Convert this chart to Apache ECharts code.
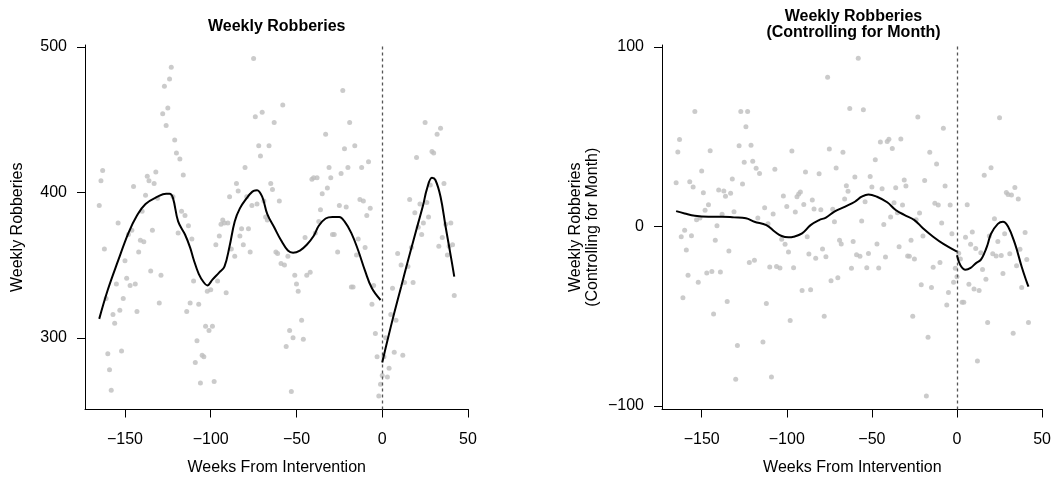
<!DOCTYPE html>
<html><head><meta charset="utf-8">
<script src="https://cdn.jsdelivr.net/npm/echarts@6/dist/echarts.min.js"></script>
<style>html,body{margin:0;padding:0;background:#fff}#c{width:1054px;height:485px}</style>
</head><body><div id="c"></div>
<script>
// ---- Left panel: weekly robberies ----
const weeksRaw = [-165,-164,-163,-162,-161,-160,-159,-158,-157,-156,-155,-154,-153,-152,-151,-150,-149,-148,-147,-146,-145,-144,-143,-142,-141,-140,-139,-138,-137,-136,-135,-134,-133,-132,-131,-130,-129,-128,-127,-126,-125,-124,-123,-122,-121,-120,-119,-118,-117,-116,-115,-114,-113,-112,-111,-110,-109,-108,-107,-106,-105,-104,-103,-102,-101,-100,-99,-98,-97,-96,-95,-94,-93,-92,-91,-90,-89,-88,-86,-85,-84,-83,-82,-81,-80,-79,-78,-77,-76,-75,-74,-73,-72,-71,-70,-69,-68,-67,-66,-65,-64,-63,-62,-61,-60,-59,-58,-57,-56,-55,-54,-53,-52,-51,-50,-49,-47,-46,-45,-44,-42,-41,-40,-39,-38,-37,-36,-35,-33,-32,-31,-30,-29,-28,-26,-25,-24,-23,-22,-21,-20,-19,-18,-17,-16,-15,-14,-13,-12,-11,-10,-9,-8,-7,-6,-5,-4,-3,-2,-1,0,1,2,3,4,5,6,7,8,9,11,12,13,15,16,17,18,19,20,21,22,23,24,25,26,27,28,29,30,32,33,34,35,36,37,38,39,40,41,42];
const robberiesRaw = [391,408,415,361,327,289,278,264,316,310,337,379,319,291,327,353,341,371,336,374,404,337,318,359,367,387,366,398,411,408,346,374,406,414,396,324,343,454,473,446,458,478,486,397,436,427,372,423,387,412,384,318,377,324,368,339,283,298,323,269,288,287,308,332,305,333,308,270,364,339,370,378,381,379,331,379,397,361,356,406,401,370,375,364,417,397,375,359,391,492,452,392,432,425,455,394,383,381,432,406,402,448,359,358,394,351,460,350,294,356,305,263,300,343,337,332,312,299,369,343,345,409,410,372,410,380,388,399,440,403,417,410,371,371,359,391,413,470,430,390,417,448,335,335,432,357,368,395,417,394,362,384,421,389,323,336,303,287,260,268,274,287,300,273,279,316,334,290,312,358,350,288,338,349,395,362,338,386,424,376,392,371,379,448,393,383,405,428,427,440,363,444,369,406,378,357,363,379,364,329];
const fitPreWeeksRaw = [-165,-160,-154,-148,-143,-138,-131,-126,-124,-122,-119,-115,-112,-110,-107,-104,-102,-99,-95,-92,-89,-86,-83,-79,-77,-75,-73,-70,-67,-63,-59,-55,-52,-48,-44,-40,-37,-33,-29,-25,-22,-18,-14,-10,-6,-1];
const fitPreRaw = [313,333,353,372,384,392,397,399,399,396,380,371,362,354,344,338,336,340,345,349,363,380,389,396,399,401,401.5,397,385,376,367,360,358.5,360,364,370,377,382,383,383,380,372,360,346,334,326];
const fitPostWeeksRaw = [0,3,7,11,15,18,21,24,26,29,31,34,37,40,42];
const fitPostRaw = [283,298,317,335,353,366,379,392,402,410,408.5,397,376,356,342];

// ---- Right panel: controlling for month ----
const weeksAdj = [-165,-164,-163,-162,-161,-160,-159,-158,-157,-156,-155,-154,-153,-152,-151,-150,-149,-148,-147,-146,-145,-144,-143,-142,-141,-140,-139,-138,-137,-136,-135,-134,-133,-132,-131,-130,-129,-128,-127,-126,-125,-124,-123,-122,-121,-120,-119,-118,-117,-116,-114,-113,-112,-111,-110,-109,-108,-107,-106,-104,-103,-102,-101,-100,-99,-98,-97,-96,-95,-94,-93,-92,-91,-90,-89,-88,-87,-86,-85,-84,-83,-81,-80,-79,-78,-77,-76,-75,-74,-73,-72,-71,-70,-69,-68,-67,-66,-65,-64,-63,-62,-61,-60,-59,-58,-57,-56,-55,-54,-53,-52,-51,-50,-48,-47,-46,-45,-44,-43,-42,-41,-40,-39,-38,-37,-36,-35,-34,-33,-32,-31,-30,-29,-28,-27,-26,-25,-24,-23,-22,-21,-20,-19,-18,-17,-16,-15,-14,-13,-12,-11,-10,-9,-8,-7,-6,-5,-4,-3,-2,-1,0,1,2,3,4,5,6,7,8,9,10,11,12,13,14,15,16,17,18,19,20,21,22,23,24,25,26,27,28,29,30,31,32,33,34,35,36,37,38,40,41,42];
const robberiesAdj = [24.4,41.5,48.5,-5.7,-39.6,-2.1,-13.1,-27.2,25,-5.1,22,64,3.8,-31.1,4.7,30.9,18.8,9,-25.9,12.2,42.2,-25,-48.7,-7.7,0.5,20.3,-25.3,6.8,19.8,16.8,-41.7,-13.6,18.5,26.5,8.3,-85.1,-66.2,45,64,23.7,35.8,55.6,64,-20.1,45.2,36.3,-18.8,32.4,4.7,29.6,-64.3,10.5,-42.8,1.6,-22.6,-83.8,7,31.9,-22.2,-23.1,-7.1,17,-9.9,11.2,-14.2,-52.3,42.1,-22.9,8.1,16.6,18.1,19.2,-35.6,12.3,30.4,-5.7,-15.3,-35.2,14.8,9.8,-17.7,29.4,9.4,-12.5,-50,-16.8,83.1,43.2,-30.2,9.6,2.7,32.6,-28.5,-7.7,-9.7,41.3,15.3,22.7,19.6,65.8,-23.3,-8.4,27.6,-15.7,93.7,-16.6,3.1,65.1,13.8,-22.9,-15,27.9,22,37.2,-9.7,-23.1,47.1,21.1,1.2,-17,47.3,48.6,5.3,43.5,13.3,21.6,7.7,-11.2,48.7,12,25.9,22.6,-16.4,-16.6,-7.7,-50,-18.1,3.8,61,7.5,-32.4,-5.3,25.7,-94.4,-61.7,41.3,-33.9,-22.7,12.9,34.8,12,-20.1,1.9,54.7,22.6,-43.7,-36.7,12,-4,-31.1,-23.3,-27.9,-14.9,-18.1,-42.2,-42.2,-6,12.2,-32.2,-9.9,-3.1,-34.8,-12.2,-74.9,-35.6,-14.6,-23.9,28.5,-29.4,-53.4,-5.3,32.8,-15.1,4.4,-16.4,-8.4,60.6,-16.1,-26.1,-4,19,17.9,-15.1,17.5,-59.5,21.8,-21.8,15.3,-12.7,-33.9,-3.3,-18.3,-53.4];
const fitPreWeeksAdj = [-165,-160,-154,-146,-138,-131,-124,-119,-112,-107,-103,-99,-96,-91,-86,-81,-77,-72,-66,-60,-56,-52,-47,-41,-36,-31,-25,-20,-14,-8,0];
const fitPreAdj = [8.6,7.3,6,5.5,5.5,5.1,4.6,2.7,0.8,-2.9,-5.3,-6,-5.7,-3.8,0.8,3.6,5,8.3,11,13.8,16.6,17.9,16.6,13.5,9.2,6.5,3.6,-1,-5.7,-9.7,-14];
const fitPostWeeksAdj = [0,2,5,8,11,14,16,18,20,24,27,30,34,38,41,42];
const fitPostAdj = [-16,-21.5,-24,-23,-20.5,-18.5,-15,-10,-4,1.5,2.7,0,-9.4,-22.4,-31,-33.5];

// ---- Tick labels ----
const xTicks = [-150,-100,-50,0,50];
const yTicksRaw = [300,400,500];
const yTicksAdj = [-100,0,100];

const FONT = 'Liberation Sans, Arial, Helvetica, sans-serif';
const minus = v => String(v).replace('-', '\u2212');
const zip = (a, b) => a.map((v, i) => [v, b[i]]);

function xAx(gi) {
  return {
    type: 'value', gridIndex: gi, min: -173.3, max: 50.3,
    axisLine: { show: true, onZero: false, lineStyle: { color: '#000', width: 1 } },
    axisTick: { show: true, length: 8, customValues: xTicks, lineStyle: { color: '#000' } },
    axisLabel: { customValues: xTicks, formatter: minus, fontSize: 16, color: '#000', margin: 22, fontFamily: FONT },
    splitLine: { show: false },
    name: 'Weeks From Intervention', nameLocation: 'middle', nameGap: 50,
    nameTextStyle: { fontSize: 16, color: '#000', fontFamily: FONT }
  };
}
function yAx(gi, min, max, ticks, name, gap) {
  return {
    type: 'value', gridIndex: gi, min: min, max: max,
    axisLine: { show: true, onZero: false, lineStyle: { color: '#000', width: 1 } },
    axisTick: { show: true, length: 8, customValues: ticks, lineStyle: { color: '#000' } },
    axisLabel: { customValues: ticks, formatter: minus, fontSize: 16, color: '#000', margin: 18, fontFamily: FONT },
    splitLine: { show: false },
    name: name, nameLocation: 'middle', nameGap: gap,
    nameTextStyle: { fontSize: 16, color: '#000', fontFamily: FONT, lineHeight: 17 }
  };
}
const vline = {
  silent: true, symbol: 'none', label: { show: false },
  lineStyle: { color: '#555', type: [3, 3], width: 1.3 },
  data: [{ xAxis: 0 }], animation: false
};
function pts(xi, w, v) {
  return { type: 'scatter', xAxisIndex: xi, yAxisIndex: xi, data: zip(w, v), symbolSize: 5,
    itemStyle: { color: '#bebebe' }, z: 2, silent: true, markLine: vline };
}
function fit(xi, w, v) {
  return { type: 'line', xAxisIndex: xi, yAxisIndex: xi, data: zip(w, v), smooth: 0.4,
    showSymbol: false, lineStyle: { color: '#000', width: 2 }, z: 5, silent: true };
}

const chart = echarts.init(document.getElementById('c'), null, { renderer: 'canvas' });
chart.setOption({
  animation: false,
  backgroundColor: '#fff',
  textStyle: { fontFamily: FONT },
  grid: [
    { left: 85, top: 45, width: 383.5, height: 364.5 },
    { left: 662, top: 45, width: 383, height: 364.5 }
  ],
  xAxis: [xAx(0), xAx(1)],
  yAxis: [
    yAx(0, 250.7, 501.3, yTicksRaw, 'Weekly Robberies', 59),
    yAx(1, -101.9, 101.1, yTicksAdj, 'Weekly Robberies\n(Controlling for Month)', 61)
  ],
  graphic: [
    { type: 'text', x: 276.75, y: 27, style: { text: 'Weekly Robberies', font: 'bold 16px ' + FONT, fill: '#000', textAlign: 'center', textVerticalAlign: 'middle' } },
    { type: 'text', x: 853.5, y: 17, style: { text: 'Weekly Robberies', font: 'bold 16px ' + FONT, fill: '#000', textAlign: 'center', textVerticalAlign: 'middle' } },
    { type: 'text', x: 853.5, y: 33, style: { text: '(Controlling for Month)', font: 'bold 16px ' + FONT, fill: '#000', textAlign: 'center', textVerticalAlign: 'middle' } }
  ],
  series: [
    pts(0, weeksRaw, robberiesRaw),
    fit(0, fitPreWeeksRaw, fitPreRaw),
    fit(0, fitPostWeeksRaw, fitPostRaw),
    pts(1, weeksAdj, robberiesAdj),
    fit(1, fitPreWeeksAdj, fitPreAdj),
    fit(1, fitPostWeeksAdj, fitPostAdj)
  ]
});
</script></body></html>
